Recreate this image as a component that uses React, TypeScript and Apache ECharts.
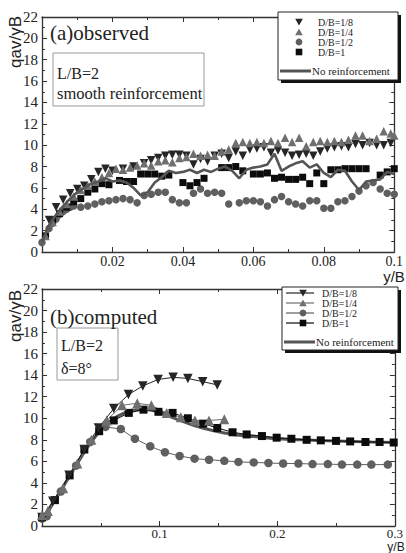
import React, { useEffect, useRef } from "react";
import * as echarts from "echarts";

// ---------- Panel (a) observed ----------
const A_D18_X = [0.002, 0.004, 0.006, 0.008, 0.010, 0.012, 0.014, 0.016, 0.018, 0.020, 0.023, 0.026, 0.029, 0.031, 0.033, 0.035, 0.037, 0.039, 0.041, 0.043, 0.045, 0.047, 0.049, 0.051, 0.053, 0.055, 0.057, 0.059, 0.061, 0.063, 0.065, 0.067, 0.069, 0.071, 0.073, 0.075, 0.077, 0.079, 0.081, 0.083, 0.085, 0.087, 0.089, 0.091, 0.093, 0.095, 0.097, 0.099];
const A_D18_Y = [3.0, 4.2, 4.9, 5.5, 5.9, 6.2, 6.8, 7.5, 7.8, 7.6, 7.8, 8.0, 8.3, 8.6, 8.8, 9.0, 9.1, 9.1, 9.0, 8.2, 8.7, 8.5, 9.0, 9.2, 8.8, 9.4, 9.0, 9.6, 9.7, 9.8, 9.3, 9.5, 9.3, 9.0, 9.1, 9.2, 9.0, 9.4, 9.7, 9.8, 9.9, 9.8, 10.1, 10.0, 10.2, 10.0, 10.0, 10.2];

const A_D14_X = [0.001, 0.003, 0.005, 0.007, 0.009, 0.011, 0.013, 0.015, 0.017, 0.019, 0.021, 0.023, 0.025, 0.027, 0.029, 0.031, 0.033, 0.035, 0.037, 0.039, 0.041, 0.043, 0.045, 0.047, 0.049, 0.051, 0.053, 0.055, 0.057, 0.059, 0.061, 0.063, 0.065, 0.067, 0.069, 0.071, 0.073, 0.075, 0.077, 0.079, 0.081, 0.083, 0.085, 0.087, 0.089, 0.091, 0.093, 0.095, 0.097, 0.099, 0.1];
const A_D14_Y = [1.5, 2.8, 3.8, 4.5, 5.2, 5.8, 6.2, 6.6, 7.0, 7.4, 7.8, 7.7, 7.9, 8.1, 8.3, 8.1, 8.5, 8.6, 8.4, 8.8, 8.9, 9.2, 9.0, 9.1, 9.0, 9.4, 9.6, 10.2, 10.3, 10.2, 10.3, 10.2, 10.4, 10.2, 10.7, 10.3, 10.7, 9.9, 10.3, 10.4, 10.3, 10.4, 10.3, 10.5, 10.9, 10.9, 10.4, 10.6, 11.3, 11.1, 10.9];

const A_D12_X = [0.0, 0.001, 0.002, 0.003, 0.004, 0.005, 0.006, 0.007, 0.008, 0.009, 0.011, 0.013, 0.015, 0.017, 0.019, 0.021, 0.023, 0.025, 0.027, 0.029, 0.031, 0.033, 0.035, 0.037, 0.039, 0.041, 0.043, 0.045, 0.047, 0.049, 0.051, 0.053, 0.056, 0.058, 0.060, 0.062, 0.064, 0.066, 0.068, 0.070, 0.072, 0.074, 0.076, 0.078, 0.080, 0.082, 0.084, 0.086, 0.088, 0.090, 0.092, 0.094, 0.096, 0.098, 0.1];
const A_D12_Y = [0.9, 1.5, 2.2, 2.7, 3.1, 3.5, 3.8, 4.0, 4.2, 4.3, 4.2, 4.3, 4.5, 4.7, 4.8, 4.9, 5.0, 4.9, 4.6, 5.3, 5.4, 5.6, 5.6, 4.9, 4.6, 4.6, 5.5, 5.9, 5.5, 5.6, 5.5, 4.5, 4.6, 4.8, 4.8, 4.7, 4.3, 4.9, 5.2, 4.7, 4.5, 4.3, 4.8, 4.8, 4.1, 4.1, 4.7, 4.8, 5.2, 5.7, 6.2, 6.5, 5.9, 5.5, 5.4];

const A_D1_X = [0.001, 0.003, 0.005, 0.007, 0.009, 0.011, 0.013, 0.015, 0.017, 0.019, 0.022, 0.024, 0.026, 0.028, 0.030, 0.032, 0.034, 0.036, 0.040, 0.042, 0.044, 0.046, 0.051, 0.053, 0.055, 0.057, 0.060, 0.062, 0.064, 0.066, 0.068, 0.070, 0.072, 0.074, 0.076, 0.078, 0.080, 0.082, 0.084, 0.086, 0.088, 0.090, 0.092, 0.096, 0.098, 0.1];
const A_D1_Y = [1.5, 3.0, 3.6, 4.2, 4.7, 5.0, 5.6, 5.9, 6.4, 6.3, 6.7, 6.6, 6.6, 7.3, 7.3, 7.3, 7.1, 7.2, 6.5, 6.2, 6.5, 6.9, 7.9, 7.9, 8.0, 7.6, 7.3, 7.3, 7.4, 6.9, 7.0, 6.8, 6.8, 7.0, 6.4, 7.4, 6.4, 7.7, 7.7, 7.8, 7.8, 7.8, 7.8, 7.2, 7.5, 7.8];

const A_NR_X = [0, 0.002, 0.004, 0.006, 0.008, 0.010, 0.012, 0.014, 0.016, 0.018, 0.020, 0.022, 0.024, 0.026, 0.028, 0.030, 0.032, 0.034, 0.036, 0.038, 0.040, 0.042, 0.044, 0.046, 0.048, 0.050, 0.052, 0.054, 0.056, 0.058, 0.060, 0.062, 0.064, 0.066, 0.068, 0.070, 0.072, 0.074, 0.076, 0.078, 0.080, 0.082, 0.084, 0.086, 0.088, 0.090, 0.092, 0.094, 0.096, 0.098, 0.1];
const A_NR_Y = [1.0, 2.5, 3.5, 4.3, 5.0, 5.6, 6.0, 6.4, 6.6, 6.9, 6.6, 6.7, 6.5, 6.0, 5.3, 5.6, 6.5, 7.0, 7.6, 7.4, 7.5, 7.7, 7.4, 7.7, 7.5, 7.8, 8.0, 7.6, 6.9, 7.7, 7.9, 8.0, 8.2, 9.2, 7.6, 8.0, 8.3, 8.5, 7.9, 8.2, 7.4, 7.0, 7.7, 7.6, 6.6, 5.8, 6.6, 6.7, 6.8, 7.5, 7.3];

// ---------- Panel (b) computed ----------
const B_D18_X = [0.0, 0.0092, 0.023, 0.0358, 0.048, 0.061, 0.0735, 0.0857, 0.0987, 0.1115, 0.124, 0.1366, 0.149];
const B_D18_Y = [0.8, 2.3, 4.7, 7.1, 9.1, 10.9, 12.2, 13.0, 13.6, 13.8, 13.7, 13.4, 13.1];

const B_D14_X = [0.0, 0.005, 0.018, 0.030, 0.042, 0.055, 0.068, 0.081, 0.093, 0.106, 0.118, 0.130, 0.142, 0.155];
const B_D14_Y = [1.0, 1.4, 3.5, 5.8, 8.0, 9.8, 11.2, 11.4, 11.2, 10.5, 10.1, 9.8, 9.8, 9.9];

const B_D12_X = [0.0, 0.004, 0.016, 0.029, 0.041, 0.054, 0.067, 0.079, 0.092, 0.1045, 0.117, 0.1297, 0.142, 0.155, 0.167, 0.18, 0.1925, 0.205, 0.218, 0.23, 0.243, 0.255, 0.268, 0.28, 0.294];
const B_D12_Y = [0.7, 0.9, 3.2, 5.6, 7.8, 9.2, 9.0, 8.1, 7.4, 6.85, 6.5, 6.25, 6.15, 6.05, 5.95, 5.9, 5.85, 5.8, 5.8, 5.75, 5.75, 5.7, 5.7, 5.7, 5.7];

const B_D1_X = [0.0, 0.011, 0.0235, 0.036, 0.0486, 0.061, 0.0738, 0.0863, 0.099, 0.111, 0.124, 0.137, 0.149, 0.162, 0.174, 0.187, 0.1995, 0.212, 0.225, 0.237, 0.25, 0.262, 0.275, 0.287, 0.299];
const B_D1_Y = [0.8, 2.4, 4.7, 7.1, 8.8, 9.8, 10.5, 10.8, 10.6, 10.5, 10.0, 9.5, 9.1, 8.7, 8.5, 8.35, 8.2, 8.1, 8.0, 7.95, 7.9, 7.85, 7.8, 7.8, 7.75];

const B_NR_X = [0, 0.01, 0.02, 0.03, 0.04, 0.05, 0.06, 0.07, 0.08, 0.09, 0.1, 0.11, 0.12, 0.13, 0.14, 0.15, 0.16, 0.17, 0.18, 0.2, 0.22, 0.25, 0.28, 0.3];
const B_NR_Y = [0.5, 2.2, 4.0, 5.8, 7.5, 8.9, 9.9, 10.5, 10.8, 10.8, 10.5, 10.1, 9.7, 9.3, 9.0, 8.75, 8.55, 8.4, 8.3, 8.1, 8.0, 7.9, 7.8, 7.75];

const LEGEND_NAMES = ["D/B=1/8", "D/B=1/4", "D/B=1/2", "D/B=1", "No reinforcement"];
const Y_TICKS_MAX = 22;

const zip = (xs: number[], ys: number[]) => xs.map((x, i) => [x, ys[i]]);

const C18 = "#262626";
const C14 = "#6f6f6f";
const C12 = "#5f5f5f";
const C1 = "#0c0c0c";
const CNR = "#555555";
const AX = "#333333";
const SERIF = "Liberation Serif, DejaVu Serif, serif";
const SANS = "Liberation Sans, DejaVu Sans, sans-serif";

const txt = (text: string, x: number, y: number, size: number, family: string, extra: any = {}) => ({
  type: "text",
  x,
  y,
  z: extra.z ?? 50,
  rotation: extra.rotation ?? 0,
  style: {
    text,
    font: `${size}px ${family}`,
    fill: "#222",
    align: extra.align ?? "left",
    verticalAlign: extra.valign ?? "middle",
  },
});

function xAxis(grid: number, pos: string, max: number, interval: number, labels: boolean, margin: number, size: number) {
  return {
    type: "value",
    gridIndex: grid,
    position: pos,
    min: 0,
    max,
    interval,
    axisLine: { show: true, onZero: false, lineStyle: { color: AX, width: 1.3 } },
    axisTick: { show: true, inside: true, length: 5, lineStyle: { color: AX } },
    minorTick: { show: true, splitNumber: 2, length: 3, lineStyle: { color: AX } },
    splitLine: { show: false },
    axisLabel: labels
      ? {
          show: true,
          margin,
          color: "#222",
          fontFamily: SERIF,
          fontSize: size,
          formatter: (v: number) => (v === 0 ? "" : String(+v.toFixed(3))),
        }
      : { show: false },
  };
}

function yAxis(grid: number, pos: string, labels: boolean) {
  return {
    type: "value",
    gridIndex: grid,
    position: pos,
    min: 0,
    max: Y_TICKS_MAX,
    interval: 2,
    axisLine: { show: true, onZero: false, lineStyle: { color: AX, width: 1.3 } },
    axisTick: { show: true, inside: true, length: 5, lineStyle: { color: AX } },
    minorTick: { show: true, splitNumber: 2, length: 3, lineStyle: { color: AX } },
    splitLine: { show: false },
    axisLabel: labels
      ? { show: true, margin: 4, color: "#222", fontFamily: SERIF, fontSize: 15 }
      : { show: false },
  };
}

function tri(x: number, y: number, down: boolean, color: string, s = 3.8) {
  const pts = down
    ? [[x - s, y - s * 0.85], [x + s, y - s * 0.85], [x, y + s * 0.95]]
    : [[x - s, y + s * 0.85], [x + s, y + s * 0.85], [x, y - s * 0.95]];
  return { type: "polygon", shape: { points: pts }, style: { fill: color }, z: 102 };
}

function legendGroup(left: number, top: number, w: number, h: number, rows: number[], withLines: boolean) {
  const els: any[] = [];
  els.push({ type: "rect", shape: { x: left + 3, y: top + 3, width: w, height: h }, style: { fill: "#111" }, z: 100 });
  els.push({ type: "rect", shape: { x: left, y: top, width: w, height: h }, style: { fill: "#fff", stroke: "#222", lineWidth: 1 }, z: 101 });
  const mx = left + 21;
  const colors = [C18, C14, C12, C1];
  rows.slice(0, 4).forEach((ry, i) => {
    if (withLines) {
      els.push({ type: "line", shape: { x1: left + 4, y1: ry, x2: left + 32, y2: ry }, style: { stroke: colors[i], lineWidth: 1.2 }, z: 102 });
    }
    if (i === 0) els.push(tri(mx, ry, true, colors[i]));
    if (i === 1) els.push(tri(mx, ry, false, colors[i]));
    if (i === 2) els.push({ type: "circle", shape: { cx: mx, cy: ry, r: 3.4 }, style: { fill: colors[i] }, z: 102 });
    if (i === 3) els.push({ type: "rect", shape: { x: mx - 3.3, y: ry - 3.3, width: 6.6, height: 6.6 }, style: { fill: colors[i] }, z: 102 });
    els.push(txt(LEGEND_NAMES[i], left + 40, ry, 10, SERIF, { z: 102 }));
  });
  const ny = rows[4];
  els.push({ type: "line", shape: { x1: left + 2, y1: ny, x2: left + 33, y2: ny }, style: { stroke: CNR, lineWidth: 3 }, z: 102 });
  els.push(txt(LEGEND_NAMES[4], left + 34, ny, 11, SERIF, { z: 102 }));
  return els;
}

export default function App() {
  const ref = useRef<HTMLDivElement>(null);
  useEffect(() => {
    document.body.style.margin = "0";
    const chart = echarts.init(ref.current as HTMLDivElement, null, { renderer: "svg" });
    const scatter = (name: string, data: number[][], symbol: string, size: number, color: string, rotate = 0) => ({
      name,
      type: "scatter",
      xAxisIndex: 0,
      yAxisIndex: 0,
      data,
      symbol,
      symbolSize: size,
      symbolRotate: rotate,
      itemStyle: { color, opacity: 1 },
    });
    const lineMk = (name: string, data: number[][], symbol: string, size: number, color: string, rotate = 0) => ({
      name,
      type: "line",
      xAxisIndex: 2,
      yAxisIndex: 2,
      data,
      symbol,
      symbolSize: size,
      symbolRotate: rotate,
      showSymbol: true,
      showAllSymbol: true,
      lineStyle: { color, width: 1 },
      itemStyle: { color, opacity: 1 },
    });
    const option: any = {
      animation: false,
      backgroundColor: "#ffffff",
      textStyle: { fontFamily: SERIF },
      grid: [
        { left: 42, top: 17, width: 358, height: 235 },
        { left: 42, top: 289, width: 358, height: 237 },
      ],
      xAxis: [
        xAxis(0, "bottom", 0.1, 0.02, true, 2, 14),
        xAxis(0, "top", 0.1, 0.02, false, 2, 14),
        xAxis(1, "bottom", 0.3, 0.1, true, 1, 13),
        xAxis(1, "top", 0.3, 0.1, false, 1, 13),
      ],
      yAxis: [yAxis(0, "left", true), yAxis(0, "right", false), yAxis(1, "left", true), yAxis(1, "right", false)],
      series: [
        {
          name: "No reinforcement (a)",
          type: "line",
          xAxisIndex: 0,
          yAxisIndex: 0,
          data: zip(A_NR_X, A_NR_Y),
          symbol: "none",
          lineStyle: { color: CNR, width: 2.6 },
        },
        scatter("D/B=1/2 (a)", zip(A_D12_X, A_D12_Y), "circle", 7.5, C12),
        scatter("D/B=1 (a)", zip(A_D1_X, A_D1_Y), "rect", 7, C1),
        scatter("D/B=1/8 (a)", zip(A_D18_X, A_D18_Y), "triangle", 8.5, C18, 180),
        scatter("D/B=1/4 (a)", zip(A_D14_X, A_D14_Y), "triangle", 8.5, C14),
        {
          name: "No reinforcement (b)",
          type: "line",
          xAxisIndex: 2,
          yAxisIndex: 2,
          data: zip(B_NR_X, B_NR_Y),
          symbol: "none",
          smooth: true,
          lineStyle: { color: CNR, width: 3 },
        },
        lineMk("D/B=1/2 (b)", zip(B_D12_X, B_D12_Y), "circle", 8.5, C12),
        lineMk("D/B=1 (b)", zip(B_D1_X, B_D1_Y), "rect", 8, C1),
        lineMk("D/B=1/8 (b)", zip(B_D18_X, B_D18_Y), "triangle", 9.5, C18, 180),
        lineMk("D/B=1/4 (b)", zip(B_D14_X, B_D14_Y), "triangle", 10, C14),
      ],
      graphic: [
        // y-axis titles
        txt("qav/γB", 15, 42, 17, SANS, { rotation: Math.PI / 2, align: "center" }),
        txt("qav/γB", 15, 316, 17, SANS, { rotation: Math.PI / 2, align: "center" }),
        // x-axis titles
        txt("y/B", 394, 276, 15, SANS, { align: "center" }),
        txt("y/B", 396, 553, 12, SANS, { align: "center", valign: "bottom" }),
        // panel titles
        txt("(a)observed", 50, 33, 21, SERIF),
        txt("(b)computed", 50, 317, 21, SERIF),
        // annotation boxes
        { type: "rect", shape: { x: 53, y: 53, width: 151, height: 53 }, style: { fill: "#fff", stroke: "#999", lineWidth: 1 } },
        txt("L/B=2", 57, 73, 16, SERIF),
        txt("smooth reinforcement", 57, 93, 16.5, SERIF),
        { type: "rect", shape: { x: 57, y: 328, width: 61, height: 52 }, style: { fill: "#fff", stroke: "#999", lineWidth: 1 } },
        txt("L/B=2", 61, 345, 16, SERIF),
        txt("δ=8°", 61, 368, 16, SERIF),
        // legends
        ...legendGroup(278, 12, 120, 68, [22, 32, 42, 52, 71], false),
        ...legendGroup(282, 287, 116, 63, [293, 303, 313, 323, 342], true),
      ],
    };
    chart.setOption(option);
    return () => chart.dispose();
  }, []);
  return <div ref={ref} style={{ width: 406, height: 553 }} />;
}
